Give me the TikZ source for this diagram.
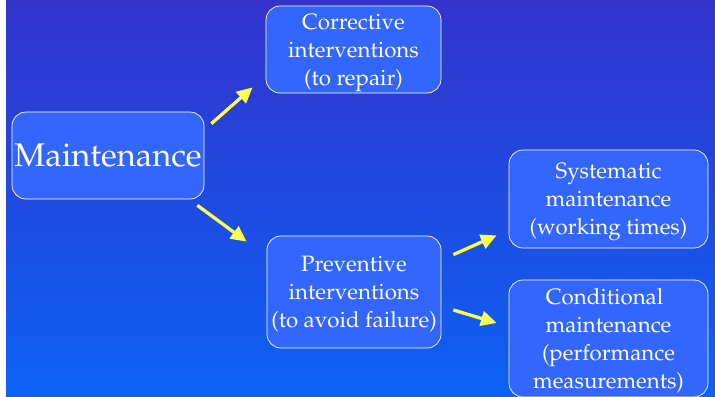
\documentclass[tikz,border=0pt]{standalone}
\usepackage[T1]{fontenc}
\renewcommand{\rmdefault}{ppl}
\usepackage{tikz}
\usetikzlibrary{arrows.meta}
\definecolor{bgtop}{RGB}{51,51,204}
\definecolor{bgbottom}{RGB}{12,98,245}
\definecolor{boxblue}{RGB}{51,102,255}
\definecolor{arrowyellow}{RGB}{255,255,80}

\begin{document}
\begin{tikzpicture}[x=0.03cm, y=-0.03cm,
		box/.style={draw=white, line width=0.6pt, fill=boxblue, rounded corners=0.42cm, text=white, align=center, inner sep=0pt, text depth=0pt, font=\fontsize{19}{23.8}\selectfont},
		arr/.style={arrowyellow, line width=2.8pt, -{Triangle[length=0.47cm,width=0.44cm]}}]
		% page and background
		\useasboundingbox (0,0) rectangle (715,397);
		\shade[top color=bgtop, bottom color=bgbottom] (6,0) rectangle (715,397);
		% root
		\node[box, minimum width=5.76cm, minimum height=2.61cm, font=\fontsize{28}{32}\selectfont] (main) at (108,155.5) {Maintenance};
		% interventions
		\node[box, minimum width=5.25cm, minimum height=2.61cm] (corr) at (353.5,49.5) {Corrective\\interventions\\(to repair)};
		\node[box, minimum width=5.22cm, minimum height=3.36cm] (prev) at (354,292) {Preventive\\interventions\\(to avoid failure)};
		% preventive kinds
		\node[box, minimum width=5.97cm, minimum height=2.94cm] (sys) at (608.5,199) {Systematic\\maintenance\\(working times)};
		\node[box, minimum width=5.97cm, minimum height=3.51cm] (cond) at (608.5,338.5) {Conditional\hspace*{0.35em}\\maintenance\\(performance\\measurements)};
		% arrows
		\draw[arr] ([shift={(7,12)}]main.north east) -- ([shift={(-13,-6)}]corr.south west);
		\draw[arr] ([shift={(-7,6)}]main.south east) -- ([shift={(-20,6)}]prev.north west);
		\draw[arr] ([shift={(12,19)}]prev.north east) -- ([shift={(-12,-13)}]sys.south west);
		\draw[arr] ([shift={(12,18)}]prev.east) -- ([shift={(-12,-15.5)}]cond.west);
	\end{tikzpicture}
\end{document}
